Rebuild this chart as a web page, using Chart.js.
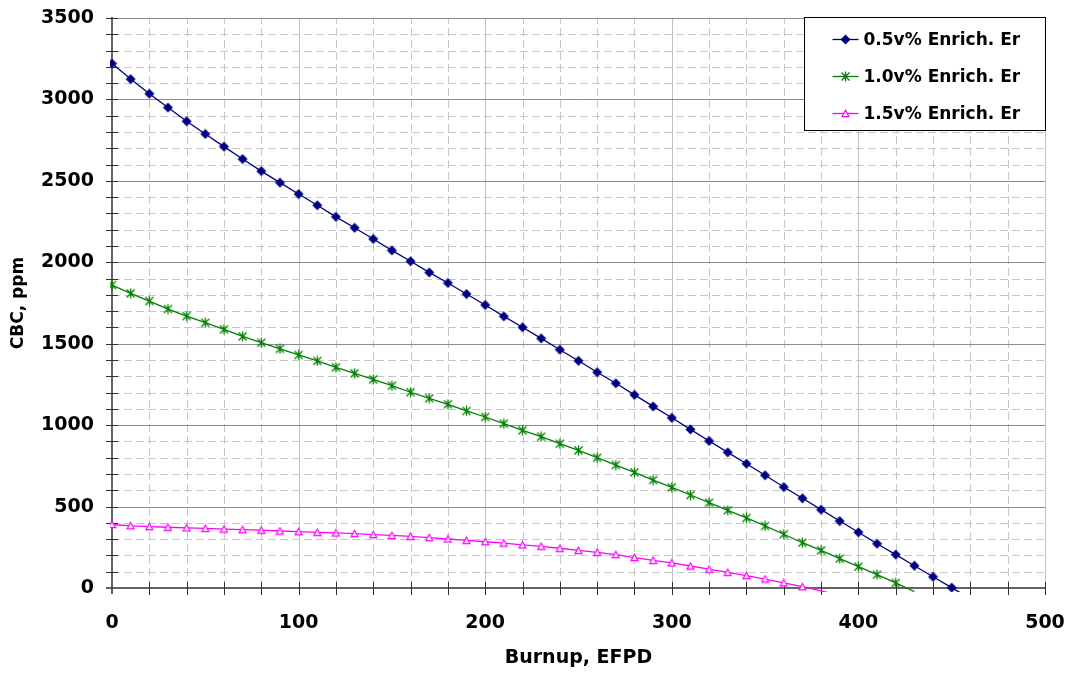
<!DOCTYPE html>
<html>
<head>
<meta charset="utf-8">
<script src="https://cdn.jsdelivr.net/npm/chart.js@4.4.1/dist/chart.umd.min.js"></script>
<style>
  html, body { margin: 0; padding: 0; background: #fff; }
  canvas { display: block; }
</style>
</head>
<body>
<canvas id="myChart" width="1071" height="673"></canvas>
<script>
// burnup steps (EFPD) shared by all three series
const burnup = [0, 10, 20, 30, 40, 50, 60, 70, 80, 90,
  100, 110, 120, 130, 140, 150, 160, 170, 180, 190,
  200, 210, 220, 230, 240, 250, 260, 270, 280, 290,
  300, 310, 320, 330, 340, 350, 360, 370, 380, 390,
  400, 410, 420, 430, 440, 450, 460];

// critical boron concentration, ppm
const er05 = [3220, 3125, 3035, 2950, 2866, 2788, 2710, 2634, 2560, 2489,
  2419, 2350, 2279, 2212, 2143, 2073, 2006, 1938, 1873, 1805,
  1738, 1668, 1601, 1533, 1463, 1395, 1325, 1257, 1186, 1115,
  1045, 974, 903, 833, 763, 692, 620, 551, 481, 411,
  342, 272, 205, 137, 69, 2, -66];
const er10 = [1860, 1809, 1762, 1713, 1670, 1629, 1588, 1545, 1506, 1469,
  1431, 1394, 1355, 1318, 1281, 1242, 1202, 1165, 1128, 1087,
  1050, 1009, 968, 929, 886, 845, 800, 755, 710, 663,
  618, 571, 524, 477, 430, 381, 330, 278, 231, 180,
  131, 82, 31, -22];
const er15 = [390, 382, 377, 373, 369, 366, 362, 358, 355, 350,
  346, 342, 338, 334, 328, 323, 317, 309, 301, 293,
  284, 276, 265, 256, 244, 231, 219, 205, 187, 170,
  154, 135, 116, 96, 76, 55, 32, 8, -18, -45];

const seriesLabels = ['0.5v% Enrich. Er', '1.0v% Enrich. Er', '1.5v% Enrich. Er'];
const xTicks = [0, 100, 200, 300, 400, 500];
const yTicks = [0, 500, 1000, 1500, 2000, 2500, 3000, 3500];

Chart.defaults.font.family = "'DejaVu Sans', Verdana, sans-serif";
Chart.defaults.color = '#000';

function makeMarker(size, draw) {
  const c = document.createElement('canvas');
  c.width = size;
  c.height = size;
  draw(c.getContext('2d'));
  return c;
}

const diamond = makeMarker(11, g => {
  g.fillStyle = '#000080';
  g.beginPath();
  g.moveTo(5.5, 0.5);
  g.lineTo(10.5, 5.5);
  g.lineTo(5.5, 10.5);
  g.lineTo(0.5, 5.5);
  g.closePath();
  g.fill();
});

const asterisk = makeMarker(11, g => {
  g.strokeStyle = '#008000';
  g.lineWidth = 1.3;
  g.beginPath();
  g.moveTo(1.5, 1.5); g.lineTo(9.5, 9.5);
  g.moveTo(9.5, 1.5); g.lineTo(1.5, 9.5);
  g.moveTo(5.5, 0.5); g.lineTo(5.5, 10.5);
  g.stroke();
});

const triangle = makeMarker(9, g => {
  g.fillStyle = '#fff';
  g.strokeStyle = '#ff00ff';
  g.lineWidth = 1.2;
  g.beginPath();
  g.moveTo(4.5, 1.2);
  g.lineTo(8, 7.6);
  g.lineTo(1, 7.6);
  g.closePath();
  g.fill();
  g.stroke();
});

function toPoints(values) {
  return values.map((v, i) => ({ x: burnup[i], y: v }));
}

// hide markers that fall below the axis, like the original
const radiusAboveZero = ctx => (ctx.raw && ctx.raw.y < 0 ? 0 : 5);

function series(label, values, color, marker) {
  return {
    label: label,
    data: toPoints(values),
    borderColor: color,
    backgroundColor: color,
    borderWidth: 1.3,
    pointStyle: marker,
    pointRadius: radiusAboveZero,
    tension: 0,
    clip: { left: 2, right: 2, top: 2, bottom: 4 }
  };
}

const gridPlugin = {
  id: 'excelGrid',
  beforeDatasetsDraw(chart) {
    const { ctx, chartArea: a, scales: { x, y } } = chart;
    const seg = (x1, y1, x2, y2) => {
      ctx.beginPath();
      ctx.moveTo(x1, y1);
      ctx.lineTo(x2, y2);
      ctx.stroke();
    };
    ctx.save();
    ctx.lineWidth = 1;

    // minor dashed lines
    ctx.strokeStyle = '#c6c6c6';
    ctx.setLineDash([8, 4]);
    for (let v = 20; v < 500; v += 20) {
      if (v % 100 === 0) continue;
      const px = Math.round(x.getPixelForValue(v)) + 0.5;
      seg(px, a.bottom, px, a.top);
    }
    for (let v = 100; v < 3500; v += 100) {
      if (v % 500 === 0) continue;
      const py = Math.round(y.getPixelForValue(v)) + 0.5;
      seg(a.left, py, a.right, py);
    }
    ctx.setLineDash([]);

    // major lines
    ctx.strokeStyle = '#c0c0c0';
    xTicks.forEach(v => {
      if (v === 0) return;
      const px = Math.round(x.getPixelForValue(v)) + 0.5;
      seg(px, a.bottom, px, a.top);
    });
    ctx.strokeStyle = '#8c8c8c';
    yTicks.forEach(v => {
      if (v === 0) return;
      const py = Math.round(y.getPixelForValue(v)) + 0.5;
      seg(a.left, py, a.right, py);
    });

    // axes and tick marks
    ctx.strokeStyle = '#303030';
    ctx.lineWidth = 1.5;
    seg(a.left, a.top - 1, a.left, a.bottom + 6);
    seg(a.left - 6, a.bottom, a.right, a.bottom);
    ctx.lineWidth = 1;
    for (let v = 100; v <= 3500; v += 100) {
      const py = Math.round(y.getPixelForValue(v)) + 0.5;
      seg(a.left - 6, py, a.left + 6, py);
    }
    for (let v = 20; v <= 500; v += 20) {
      const px = Math.round(x.getPixelForValue(v)) + 0.5;
      seg(px, a.bottom - 6, px, a.bottom + 7);
    }
    ctx.restore();
  }
};

const legendPlugin = {
  id: 'boxLegend',
  afterDraw(chart) {
    const { ctx, chartArea: a } = chart;
    const markers = [diamond, asterisk, triangle];
    const bw = 241, bh = 113;
    const bx = a.right - bw + 0.5, by = a.top - 0.5;
    ctx.save();
    ctx.fillStyle = '#fff';
    ctx.fillRect(bx, by, bw, bh);
    ctx.strokeStyle = '#000';
    ctx.lineWidth = 1;
    ctx.strokeRect(bx, by, bw, bh);
    ctx.font = "bold 17px 'DejaVu Sans', Verdana, sans-serif";
    ctx.textBaseline = 'middle';
    chart.data.datasets.forEach((ds, i) => {
      const ry = by + 22 + i * 37;
      ctx.strokeStyle = ds.borderColor;
      ctx.lineWidth = 1.3;
      ctx.beginPath();
      ctx.moveTo(bx + 28, ry);
      ctx.lineTo(bx + 54, ry);
      ctx.stroke();
      const m = markers[i];
      ctx.drawImage(m, Math.round(bx + 41 - m.width / 2), Math.round(ry - m.height / 2));
      ctx.fillStyle = '#000';
      ctx.fillText(ds.label, bx + 59, ry + 1);
    });
    ctx.restore();
  }
};

const data = {
  datasets: [
    series(seriesLabels[0], er05, '#000080', diamond),
    series(seriesLabels[1], er10, '#008000', asterisk),
    series(seriesLabels[2], er15, '#ff00ff', triangle)
  ]
};

const options = {
  responsive: false,
  animation: false,
  devicePixelRatio: 1,
  layout: { padding: { left: 0, right: 26, top: 18, bottom: 0 } },
  plugins: {
    legend: { display: false },
    tooltip: { enabled: false }
  },
  scales: {
    x: {
      type: 'linear',
      min: 0,
      max: 500,
      afterBuildTicks: s => { s.ticks = xTicks.map(v => ({ value: v })); },
      afterFit: s => { s.height = 85; s.paddingLeft = 0; s.paddingRight = 0; },
      grid: { display: false, drawTicks: false },
      border: { display: false },
      ticks: { autoSkip: false, maxRotation: 0, padding: 24, font: { size: 19, weight: 'bold' }, callback: v => String(v) },
      title: { display: true, text: 'Burnup, EFPD', font: { size: 19, weight: 'bold' }, padding: { top: 0, bottom: 4 } }
    },
    y: {
      type: 'linear',
      min: 0,
      max: 3500,
      afterBuildTicks: s => { s.ticks = yTicks.map(v => ({ value: v })); },
      afterFit: s => { s.width = 112; s.paddingTop = 0; s.paddingBottom = 0; },
      grid: { display: false, drawTicks: false },
      border: { display: false },
      ticks: { padding: 18, font: { size: 19, weight: 'bold' }, callback: v => String(v) },
      title: { display: true, text: 'CBC, ppm', font: { size: 17, weight: 'bold' }, padding: { top: 8, bottom: 0 } }
    }
  }
};

const config = {
  type: 'line',
  data: data,
  options: options,
  plugins: [gridPlugin, legendPlugin]
};

const myChart = new Chart(document.getElementById('myChart'), config);
</script>
</body>
</html>
